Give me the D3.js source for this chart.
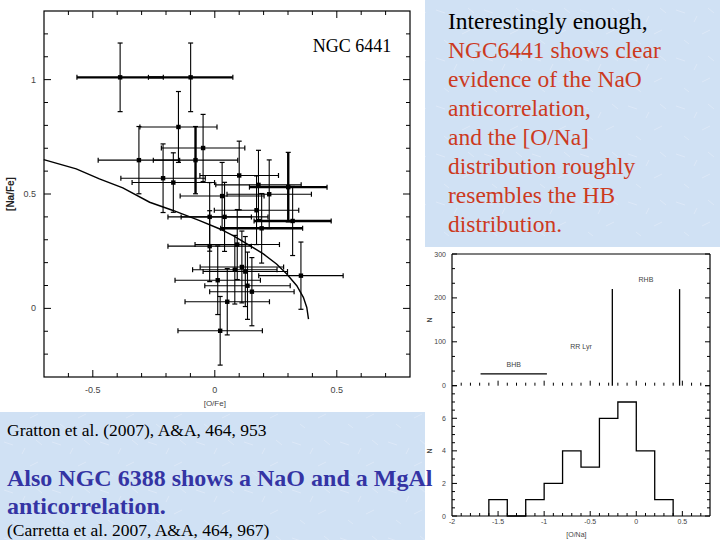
<!DOCTYPE html>
<html><head><meta charset="utf-8">
<script src="https://cdn.jsdelivr.net/npm/d3@7"></script>
<style>body{margin:0;background:#d2e2f5}svg{display:block}</style>
</head><body>
<svg id="c" width="720" height="540"></svg>
<script>
// ---------- data: NGC 6441 [Na/Fe] vs [O/Fe] ----------
const ofe     = [-0.388,-0.099,-0.149,-0.048,-0.311,-0.079,-0.212,-0.170,0.100,0.030,0.179,0.223,0.301,0.171,-0.021,0.040,0.319,0.192,-0.021,0.092,0.111,0.082,0.125,0.012,0.134,0.152,0.353,0.051,0.022];
const nafe    = [1.010,1.010,0.793,0.701,0.648,0.648,0.569,0.550,0.581,0.491,0.540,0.499,0.530,0.429,0.400,0.400,0.382,0.350,0.272,0.279,0.181,0.169,0.161,0.123,0.099,0.073,0.143,0.029,-0.098];
const ofeErr  = [0.177,0.173,0.158,0.171,0.167,0.173,0.173,0.169,0.161,0.172,0.175,0.173,0.159,0.173,0.171,0.178,0.158,0.168,0.171,0.173,0.171,0.173,0.173,0.175,0.175,0.173,0.173,0.173,0.173];
const nafeErr = [0.150,0.150,0.155,0.147,0.147,0.147,0.150,0.130,0.150,0.147,0.151,0.150,0.152,0.150,0.150,0.151,0.151,0.152,0.155,0.153,0.157,0.150,0.153,0.150,0.147,0.149,0.147,0.145,0.150];
const thickH  = [1,1,0,0,0,0,0,0,0,0,0,0,1,0,0,0,1,1,0,0,0,0,0,0,0,0,0,0,0];
const thickV  = [0,0,0,0,0,1,0,0,0,0,0,0,1,0,0,0,0,0,0,0,0,0,0,0,0,0,0,0,0];
// model curve
const curveO  = [-0.701,-0.568,-0.473,-0.377,-0.267,-0.171,-0.062,0.021,0.075,0.144,0.199,0.253,0.295,0.336,0.363,0.377,0.384];
const curveNa = [0.650,0.610,0.566,0.527,0.464,0.428,0.384,0.347,0.318,0.274,0.238,0.194,0.150,0.099,0.048,0.004,-0.047];
const scXTicks = [-0.5,0,0.5];
const scXLabels = ["-0.5","0","0.5"];
const scYTicks = [0,0.5,1];
const scYLabels = ["0","0.5","1"];

// ---------- data: HB distribution ----------
const hbNames = ["BHB","RR Lyr","RHB"];
const hbLow   = [-1.69,-0.90,-0.26];
const hbHigh  = [-0.97,-0.30,0.47];
const hbCount = [27,75,220];
const hbYTicks = [0,100,200,300];

// ---------- data: [O/Na] histogram ----------
const onaBinStart = [-1.6,-1.4,-1.2,-1.0,-0.8,-0.6,-0.4,-0.2,0.0,0.2];
const onaCounts   = [1,0,1,2,4,3,6,7,4,1];
const onaBinWidth = 0.2;
const onaXTicks = [-2,-1.5,-1,-0.5,0,0.5];
const onaXLabels = ["-2","-1.5","-1","-0.5","0","0.5"];
const onaYTicks = [0,2,4,6];

// ---------- text ----------
const rightLines = ["Interestingly enough,","NGC6441 shows clear","evidence of the NaO","anticorrelation,","and the [O/Na]","distribution roughly","resembles the HB","distribution."];
const bottomRef1 = "Gratton et al. (2007), A&A, 464, 953";
const bottomBold = ["Also NGC 6388 shows a NaO and a MgAl","anticorrelation."];
const bottomRef2 = "(Carretta et al. 2007, A&A, 464, 967)";

const svg = d3.select("#c");

// background texture (subtle)
const defs = svg.append("defs");
const pat = defs.append("pattern").attr("id","tex").attr("width",48).attr("height",48).attr("patternUnits","userSpaceOnUse");
pat.append("rect").attr("width",48).attr("height",48).attr("fill","#d0e1f4");
pat.append("path").attr("d","M4 10 l9 3 M30 34 l8 -4 M12 40 l5 4 M36 8 l6 5 M22 22 l3 -6")
   .attr("stroke","#dce8f7").attr("stroke-width",1).attr("fill","none");
svg.append("rect").attr("width",720).attr("height",540).attr("fill","url(#tex)");

// white panels
svg.append("rect").attr("x",0).attr("y",0).attr("width",425).attr("height",412).attr("fill","#fff");
svg.append("rect").attr("x",425).attr("y",247).attr("width",295).attr("height",293).attr("fill","#fff");

// ================= scatter =================
const sx = d3.scaleLinear().domain([-0.7,0.8]).range([44,410]);
const sy = d3.scaleLinear().domain([-0.3,1.3]).range([377,11]);
const g = svg.append("g");
g.append("rect").attr("x",sx(-0.7)).attr("y",sy(1.3)).attr("width",sx(0.8)-sx(-0.7)).attr("height",sy(-0.3)-sy(1.3))
 .attr("fill","none").attr("stroke","#000").attr("stroke-width",1.2);
// ticks
const xt = d3.range(-6,8).map(i=>i/10);
xt.forEach(v=>{
  const major = Math.abs(v*2 - Math.round(v*2))<1e-6;
  const L = major?7:4;
  g.append("line").attr("x1",sx(v)).attr("x2",sx(v)).attr("y1",sy(-0.3)).attr("y2",sy(-0.3)-L).attr("stroke","#000");
  g.append("line").attr("x1",sx(v)).attr("x2",sx(v)).attr("y1",sy(1.3)).attr("y2",sy(1.3)+L).attr("stroke","#000");
});
const yt = d3.range(-2,13).map(i=>i/10);
yt.forEach(v=>{
  const major = Math.abs(v*2 - Math.round(v*2))<1e-6;
  const L = major?7:4;
  g.append("line").attr("y1",sy(v)).attr("y2",sy(v)).attr("x1",sx(-0.7)).attr("x2",sx(-0.7)+L).attr("stroke","#000");
  g.append("line").attr("y1",sy(v)).attr("y2",sy(v)).attr("x1",sx(0.8)).attr("x2",sx(0.8)-L).attr("stroke","#000");
});
scXTicks.forEach((v,i)=>g.append("text").attr("x",sx(v)).attr("y",393).attr("text-anchor","middle")
  .attr("font-family","Liberation Sans, Arial").attr("font-size",9).attr("fill","#444").text(scXLabels[i]));
scYTicks.forEach((v,i)=>g.append("text").attr("x",36).attr("y",sy(v)+3).attr("text-anchor","end")
  .attr("font-family","Liberation Sans, Arial").attr("font-size",9).attr("fill","#444").text(scYLabels[i]));
g.append("text").attr("x",sx(0)).attr("y",406).attr("text-anchor","middle")
  .attr("font-family","Liberation Sans, Arial").attr("font-size",8).attr("fill","#444").text("[O/Fe]");
g.append("text").attr("transform","translate(14,194) rotate(-90)").attr("text-anchor","middle")
  .attr("font-family","Liberation Sans, Arial").attr("font-size",10).attr("font-weight","bold").attr("fill","#222").text("[Na/Fe]");
g.append("text").attr("x",352).attr("y",52).attr("text-anchor","middle")
  .attr("font-family","Liberation Serif, Times New Roman").attr("font-size",18).attr("fill","#000").text("NGC 6441");

// curve
g.append("path").datum(curveO.map((o,i)=>[o,curveNa[i]]))
  .attr("d",d3.line().x(d=>sx(d[0])).y(d=>sy(d[1])))
  .attr("fill","none").attr("stroke","#000").attr("stroke-width",1.4);

// error bars
const cap = 2.5;
ofe.forEach((o,i)=>{
  const px = sx(o), py = sy(nafe[i]);
  const x1 = sx(o-ofeErr[i]), x2 = sx(o+ofeErr[i]);
  const y1 = sy(nafe[i]+nafeErr[i]), y2 = sy(nafe[i]-nafeErr[i]);
  const wh = thickH[i]?2.4:1.1, wv = thickV[i]?2.4:1.1;
  g.append("line").attr("x1",x1).attr("x2",x2).attr("y1",py).attr("y2",py).attr("stroke","#000").attr("stroke-width",wh);
  [x1,x2].forEach(x=>g.append("line").attr("x1",x).attr("x2",x).attr("y1",py-cap).attr("y2",py+cap).attr("stroke","#000").attr("stroke-width",1.2));
  g.append("line").attr("x1",px).attr("x2",px).attr("y1",y1).attr("y2",y2).attr("stroke","#000").attr("stroke-width",wv);
  [y1,y2].forEach(y=>g.append("line").attr("x1",px-cap).attr("x2",px+cap).attr("y1",y).attr("y2",y).attr("stroke","#000").attr("stroke-width",1.2));
  g.append("rect").attr("x",px-2.2).attr("y",py-2.2).attr("width",4.4).attr("height",4.4).attr("fill","#000");
});

// ================= histograms =================
const hx = d3.scaleLinear().domain([-2,0.8]).range([452,710]);
const hyTop = d3.scaleLinear().domain([0,300]).range([385.7,254]);
const hyBot = d3.scaleLinear().domain([0,8]).range([516,385.7]);
const h = svg.append("g").attr("stroke","#000");
// frame
h.append("line").attr("x1",hx(-2)).attr("x2",hx(0.8)).attr("y1",hyTop(300)).attr("y2",hyTop(300)).attr("stroke-width",1.2);
h.append("line").attr("x1",hx(-2)).attr("x2",hx(0.8)).attr("y1",hyBot(0)).attr("y2",hyBot(0)).attr("stroke-width",1.2);
h.append("line").attr("x1",hx(-2)).attr("x2",hx(-2)).attr("y1",hyTop(300)).attr("y2",hyBot(0)).attr("stroke-width",1.2);
h.append("line").attr("x1",hx(0.8)).attr("x2",hx(0.8)).attr("y1",hyTop(300)).attr("y2",hyBot(0)).attr("stroke-width",1.2);
// x ticks (bottom of both panels)
d3.range(-19,8).map(i=>i/10).forEach(v=>{
  const major = Math.abs(v*2 - Math.round(v*2))<1e-6;
  const L = major?5:3;
  h.append("line").attr("x1",hx(v)).attr("x2",hx(v)).attr("y1",hyBot(0)).attr("y2",hyBot(0)-L);
  h.append("line").attr("x1",hx(v)).attr("x2",hx(v)).attr("y1",hyTop(0)).attr("y2",hyTop(0)-L);
});
// y ticks top panel
d3.range(0,10).map(i=>i*100/3).forEach((v,i)=>{
  const L = i%3===0?5:3;
  h.append("line").attr("x1",hx(-2)).attr("x2",hx(-2)+L).attr("y1",hyTop(v)).attr("y2",hyTop(v));
  h.append("line").attr("x1",hx(0.8)).attr("x2",hx(0.8)-L).attr("y1",hyTop(v)).attr("y2",hyTop(v));
});
// y ticks bottom panel
d3.range(0,17).map(i=>i/2).forEach((v,i)=>{
  const L = i%4===0?5:3;
  h.append("line").attr("x1",hx(-2)).attr("x2",hx(-2)+L).attr("y1",hyBot(v)).attr("y2",hyBot(v));
  h.append("line").attr("x1",hx(0.8)).attr("x2",hx(0.8)-L).attr("y1",hyBot(v)).attr("y2",hyBot(v));
});
const ft = s=>s.attr("font-family","Liberation Sans, Arial").attr("font-size",7).attr("fill","#444").attr("stroke","none");
hbYTicks.forEach(v=>ft(h.append("text").attr("x",446).attr("y",hyTop(v)+2.5).attr("text-anchor","end").text(v)));
onaYTicks.forEach(v=>ft(h.append("text").attr("x",446).attr("y",hyBot(v)+2.5).attr("text-anchor","end").text(v)));
onaXTicks.forEach((v,i)=>ft(h.append("text").attr("x",hx(v)).attr("y",524).attr("text-anchor","middle").text(onaXLabels[i])));
ft(h.append("text").attr("x",hx(-0.65)).attr("y",537).attr("text-anchor","middle").text("[O/Na]"));
ft(h.append("text").attr("transform",`translate(432,${hyTop(150)}) rotate(-90)`).attr("text-anchor","middle").attr("font-weight","bold").text("N"));
ft(h.append("text").attr("transform",`translate(432,${hyBot(4)}) rotate(-90)`).attr("text-anchor","middle").attr("font-weight","bold").text("N"));

// HB distribution
h.append("line").attr("x1",hx(hbLow[0])).attr("x2",hx(hbHigh[0])).attr("y1",hyTop(hbCount[0])).attr("y2",hyTop(hbCount[0])).attr("stroke-width",1.3);
[hbLow[2],hbHigh[2]].forEach(v=>h.append("line").attr("x1",hx(v)).attr("x2",hx(v)).attr("y1",hyTop(0)).attr("y2",hyTop(hbCount[2])).attr("stroke-width",1.3));
hbNames.forEach((n,i)=>ft(h.append("text").attr("x",hx((hbLow[i]+hbHigh[i])/2)).attr("y",hyTop(hbCount[i]+(i===1?8:16))).attr("text-anchor","middle").text(n)));

// [O/Na] step histogram
const stepPts = [[onaBinStart[0],0]];
onaBinStart.forEach((b,i)=>{stepPts.push([b,onaCounts[i]]);stepPts.push([b+onaBinWidth,onaCounts[i]]);});
stepPts.push([onaBinStart[onaBinStart.length-1]+onaBinWidth,0]);
h.append("path").datum(stepPts).attr("d",d3.line().x(d=>hx(d[0])).y(d=>hyBot(d[1])))
 .attr("fill","none").attr("stroke-width",1.3);

// ================= slide text =================
const t = svg.append("g").attr("font-family","Liberation Serif, Times New Roman");
rightLines.forEach((s,i)=>t.append("text").attr("x",448).attr("y",29+i*29).attr("font-size",23.5)
  .attr("fill",i===0?"#000":"#cc3a1e").text(s));
t.append("text").attr("x",7).attr("y",436).attr("font-size",17.5).attr("fill","#000").text(bottomRef1);
bottomBold.forEach((s,i)=>t.append("text").attr("x",7).attr("y",486+i*28).attr("font-size",24).attr("font-weight","bold")
  .attr("fill","#3434a4").text(s));
t.append("text").attr("x",7).attr("y",536).attr("font-size",17.5).attr("fill","#000").text(bottomRef2);
</script>
</body></html>
